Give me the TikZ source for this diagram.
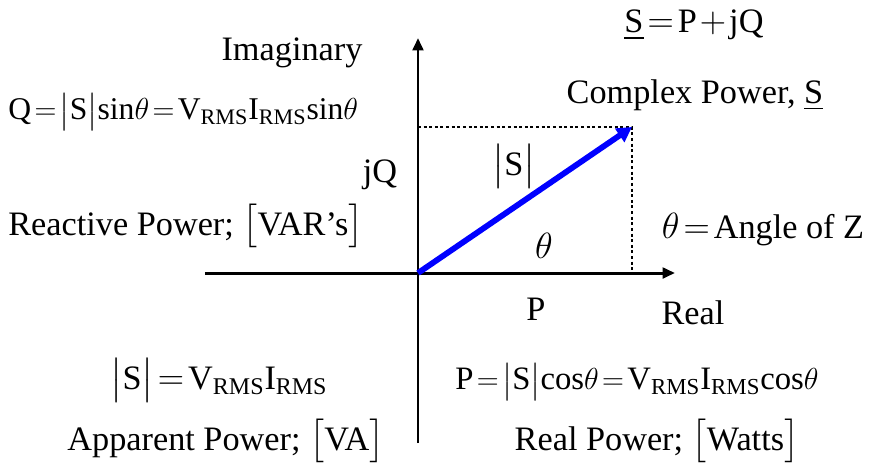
\documentclass[tikz,border=0pt]{standalone}
\usepackage{amsmath}
\usepackage{fontspec}
\setmainfont{Liberation Serif}
\usepackage{tikz}
\usetikzlibrary{arrows.meta}
\tikzset{
  axis/.style  ={-{Triangle[length=7pt,width=6pt]},line width=1.7pt},
  phasor/.style={-{Triangle[length=8.5pt,width=9pt]},line width=3.3pt,blue},
  proj/.style  ={line width=1.7pt,dash pattern=on 1.7pt off 1.5pt},
  lbl/.style   ={font=\fontsize{19.5}{23}\selectfont,inner sep=0pt},
  eqn/.style   ={lbl,font=\fontsize{#1}{22}\selectfont},
}
\newcommand{\rms}{_{\mathrm{RMS}}}
\newcommand{\magS}{\bigl|\mathrm{S}\bigr|}
\thickmuskip=2mu plus 1mu
\medmuskip=1.5mu plus 1mu

\begin{document}
\begin{tikzpicture}
  \useasboundingbox (-8.36,-3.88) rectangle (9.1,5.46);
  % axes
  \coordinate (O) at (0,0);
  \coordinate (xl) at (-4.26,0);
  \coordinate (xr) at (5.14,0);
  \coordinate (yb) at (0,-3.4);
  \coordinate (yt) at (0,4.7);
  \draw[axis] (xl) -- (xr);
  \draw[axis] (yb) -- (yt);
  % phasor and its projections
  \coordinate (S) at (4.28,2.92);
  \coordinate (Sy) at (O |- S);
  \coordinate (Sx) at (S |- O);
  \draw[proj] (Sy) -- (S) -- (Sx);
  \draw[phasor] (O) -- (S);
  % labels
  \node[lbl] (imag) at (-2.52,4.4) {Imaginary};
  \node[lbl] (real) at (5.5,-0.8) {Real};
  \node[lbl] (seq) at (5.52,4.96) {$\underline{\mathrm{S}}=\mathrm{P}+\mathrm{jQ}$};
  \node[lbl] (cplx) at (5.54,3.56) {Complex Power, $\underline{\mathrm{S}}$};
  \node[eqn=18,anchor=west] (qeq) at (-8.2,3.22) {$\mathrm{Q}=\magS\mathrm{sin}\theta=\mathrm{V}\rms\mathrm{I}\rms\mathrm{sin}\theta$};
  \node[lbl] (jq) at (-0.76,1.96) {jQ};
  \node[lbl] (mag) at (1.92,2.14) {$\magS$};
  \node[lbl] (react) at (-4.64,0.94) {Reactive Power; $\bigl[\text{VAR's}\bigr]$};
  \node[lbl] (th) at (2.52,0.54) {$\theta$};
  \node[lbl] (ang) at (6.9,0.86) {$\theta=\text{Angle of Z}$};
  \node[lbl] (p) at (2.36,-0.72) {P};
  \node[lbl] (seqm) at (-3.98,-2.14) {$\magS=\mathrm{V}\rms\mathrm{I}\rms$};
  \node[eqn=18.6] (peq) at (4.38,-2.18) {$\mathrm{P}=\magS\mathrm{cos}\theta=\mathrm{V}\rms\mathrm{I}\rms\mathrm{cos}\theta$};
  \node[lbl] (app) at (-3.84,-3.36) {Apparent Power; $\bigl[\text{VA}\bigr]$};
  \node[lbl] (rp) at (4.78,-3.36) {Real Power; $\bigl[\text{Watts}\bigr]$};
\end{tikzpicture}
\end{document}
